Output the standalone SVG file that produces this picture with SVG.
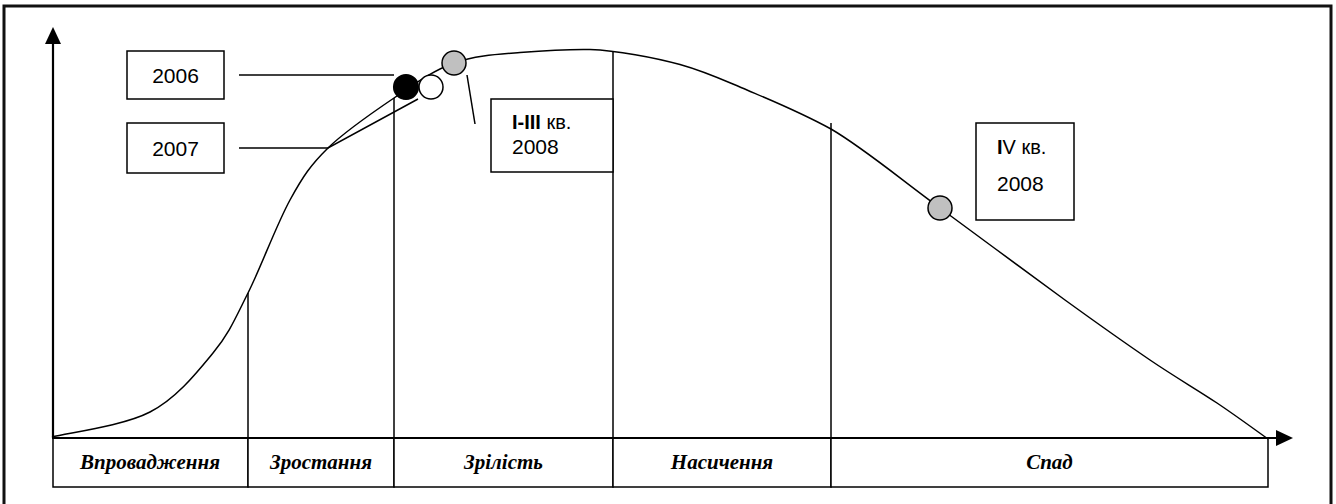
<svg xmlns="http://www.w3.org/2000/svg" width="1336" height="504" viewBox="0 0 1336 504">
<defs>
<style>
.ln{stroke:#000;stroke-width:1.5;fill:none}
.ax{stroke:#000;stroke-width:2.2;fill:none}
.box{fill:#fff;stroke:#000;stroke-width:1.5}
.num{font-family:"Liberation Sans",Arial,sans-serif;font-size:21px;fill:#000}
.q{font-size:20px}
.stage{font-family:"Liberation Serif","Times New Roman",serif;font-size:21px;font-weight:bold;font-style:italic;fill:#000;text-anchor:middle}
.dot{stroke:#000;stroke-width:1.5}
</style>
</defs>
<rect x="0" y="0" width="1336" height="504" fill="#fff"/>
<rect x="4" y="6" width="1327" height="520" fill="none" stroke="#111" stroke-width="3"/>

<g id="axes">
<line class="ax" x1="53" y1="438" x2="53" y2="44"/>
<polygon points="53,27 45,44 61,44" fill="#000"/>
<polygon points="1293,438 1276,430 1276,446" fill="#000"/>
</g>

<g id="stages">
<g id="stage-1"><rect class="box" x="53" y="438" width="195" height="49"/><text class="stage" x="150" y="469">Впровадження</text></g>
<g id="stage-2"><rect class="box" x="248" y="438" width="146" height="49"/><text class="stage" x="321" y="469">Зростання</text></g>
<g id="stage-3"><rect class="box" x="394" y="438" width="219" height="49"/><text class="stage" x="503.5" y="469">Зрілість</text></g>
<g id="stage-4"><rect class="box" x="613" y="438" width="218" height="49"/><text class="stage" x="722" y="469">Насичення</text></g>
<g id="stage-5"><rect class="box" x="831" y="438" width="437" height="49"/><text class="stage" x="1049.5" y="469">Спад</text></g>
<line class="ax" x1="52" y1="438" x2="1277" y2="438"/>
</g>

<g id="connectors">
<line class="ln" x1="248" y1="293" x2="248" y2="438"/>
<line class="ln" x1="394" y1="98" x2="394" y2="438"/>
<line class="ln" x1="613" y1="51" x2="613" y2="438"/>
<line class="ln" x1="831" y1="123" x2="831" y2="438"/>
<path class="ln" d="M52,437 C68.3,432.8 123.2,426 150,412 C176.8,398 196.7,372.8 213,353 C229.3,333.2 235.2,318.5 248,293 C260.8,267.5 276.7,224.2 290,200 C303.3,175.8 310.7,165 328,148 C345.3,131 373,112.2 394,98 C415,83.8 433,70.5 454,63 C475,55.5 497.3,54.3 520,52.5 C542.7,50.7 565,49 590,49.5 C616.7,50.5 653.8,57.2 680,64.5 C706.2,71.8 723,80 747,90 C772.2,100.7 800,112 831,129 C863.2,147.7 901,179.5 940,208 C979,236.5 1030,274.7 1065,300 C1100,325.3 1124.7,342.8 1150,360 C1175.3,377.2 1197.3,389.8 1217,403 C1236.7,416.2 1259.5,433 1268,439"/>
<line class="ln" x1="239" y1="75" x2="394" y2="75"/>
<polyline class="ln" points="239,148 328,148 418,99"/>
<line class="ln" x1="467" y1="75" x2="475" y2="124"/>
</g>

<g id="box-2006"><rect class="box" x="127" y="51" width="97" height="48"/><text class="num" x="175.5" y="82.5" text-anchor="middle">2006</text></g>
<g id="box-2007"><rect class="box" x="127" y="123" width="97" height="50"/><text class="num" x="175.5" y="155.5" text-anchor="middle">2007</text></g>
<g id="box-q1-3"><rect class="box" x="491" y="99" width="122" height="73"/><text class="num q" x="512" y="129"><tspan font-weight="bold">I-III</tspan> кв.</text><text class="num" x="512" y="154">2008</text></g>
<g id="box-q4"><rect class="box" x="976" y="123" width="98" height="97"/><text class="num q" x="997" y="154"><tspan font-weight="bold">I</tspan>V кв.</text><text class="num" x="997" y="191">2008</text></g>

<g id="dot-2006"><circle class="dot" cx="406" cy="87" r="12.3" fill="#000"/></g>
<g id="dot-2007"><circle class="dot" cx="431" cy="87" r="12" fill="#fff"/></g>
<g id="dot-q1-3"><circle class="dot" cx="454" cy="63" r="12" fill="#c0c0c0"/></g>
<g id="dot-q4"><circle class="dot" cx="940" cy="208" r="12" fill="#c0c0c0"/></g>
</svg>
